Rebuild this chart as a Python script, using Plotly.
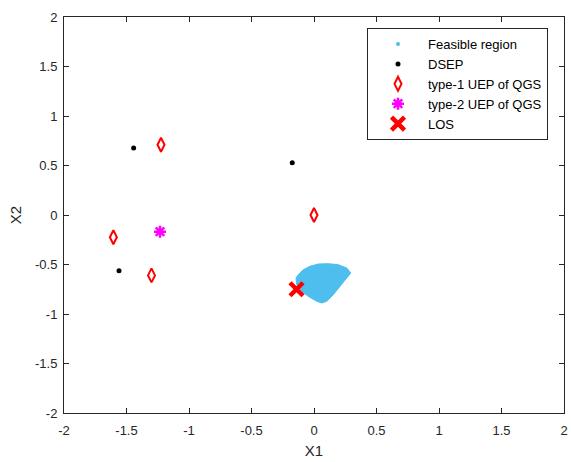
import plotly.graph_objects as go

# Feasible region boundary (x1, x2)
region_x = [-0.126, -0.086, -0.032, 0.034, 0.114, 0.194, 0.262, 0.294, 0.262, 0.208,
            0.154, 0.102, 0.062, 0.022, -0.046, -0.098, -0.138, -0.144, -0.126]
region_y = [-0.603, -0.553, -0.518, -0.495, -0.492, -0.502, -0.535, -0.586, -0.636, -0.720,
            -0.805, -0.872, -0.889, -0.872, -0.821, -0.771, -0.704, -0.636, -0.603]

dsep_x = [-1.443, -1.56, -0.174]
dsep_y = [0.677, -0.563, 0.528]

uep1_x = [-1.224, -1.605, -1.30, 0.0]
uep1_y = [0.71, -0.225, -0.61, 0.0]

uep2_x = [-1.232]
uep2_y = [-0.168]

los_x = [-0.14]
los_y = [-0.75]

tick_vals = [-2, -1.5, -1, -0.5, 0, 0.5, 1, 1.5, 2]
tick_text = ["-2", "-1.5", "-1", "-0.5", "0", "0.5", "1", "1.5", "2"]

cyan = "#4DBEEE"
font_fam = "Liberation Sans, Arial"
fig = go.Figure()

fig.add_trace(go.Scatter(x=region_x, y=region_y, mode="lines", fill="toself",
                         fillcolor=cyan, line=dict(color=cyan, width=1),
                         showlegend=False, hoverinfo="skip"))
fig.add_trace(go.Scatter(x=[None], y=[None], mode="markers", name="Feasible region",
                         marker=dict(color=cyan, size=4)))
fig.add_trace(go.Scatter(x=dsep_x, y=dsep_y, mode="markers", name="DSEP",
                         marker=dict(color="black", size=5)))
fig.add_trace(go.Scatter(x=uep1_x, y=uep1_y, mode="markers", name="type-1 UEP of QGS",
                         marker=dict(symbol="diamond-tall-open", color="red", size=10,
                                     line=dict(color="red", width=2))))
fig.add_trace(go.Scatter(x=uep2_x, y=uep2_y, mode="markers", name="type-2 UEP of QGS",
                         marker=dict(symbol="asterisk-open", color="magenta", size=10,
                                     line=dict(color="magenta", width=2.5))))
fig.add_trace(go.Scatter(x=los_x, y=los_y, mode="markers", name="LOS",
                         marker=dict(symbol="x-thin-open", color="red", size=13,
                                     line=dict(color="red", width=4.5))))

axis_common = dict(showgrid=False, zeroline=False, showline=True, linecolor="#262626",
                   linewidth=1, mirror="ticks", ticks="inside", ticklen=5, automargin=False,
                   tickcolor="#262626", tickfont=dict(family=font_fam, size=13, color="#262626"),
                   range=[-2, 2], tickvals=tick_vals, ticktext=tick_text)

fig.update_xaxes(title=dict(text="X1", font=dict(family=font_fam, size=15, color="#262626"), standoff=8),
                 ticklabelstandoff=5, **axis_common)
fig.update_yaxes(title=dict(text="X2", font=dict(family=font_fam, size=15, color="#262626"), standoff=9),
                 ticklabelstandoff=3, **axis_common)

fig.update_layout(width=571, height=462, margin=dict(l=64, r=7, t=17, b=49),
                  plot_bgcolor="white", paper_bgcolor="white",
                  legend=dict(x=0.606, y=0.972, xanchor="left", yanchor="top",
                              bordercolor="#262626", borderwidth=1, bgcolor="white",
                              font=dict(family=font_fam, size=13, color="black"),
                              tracegroupgap=0, itemwidth=50,
                              entrywidth=130, entrywidthmode="pixels"))

fig.write_html("out.html")
